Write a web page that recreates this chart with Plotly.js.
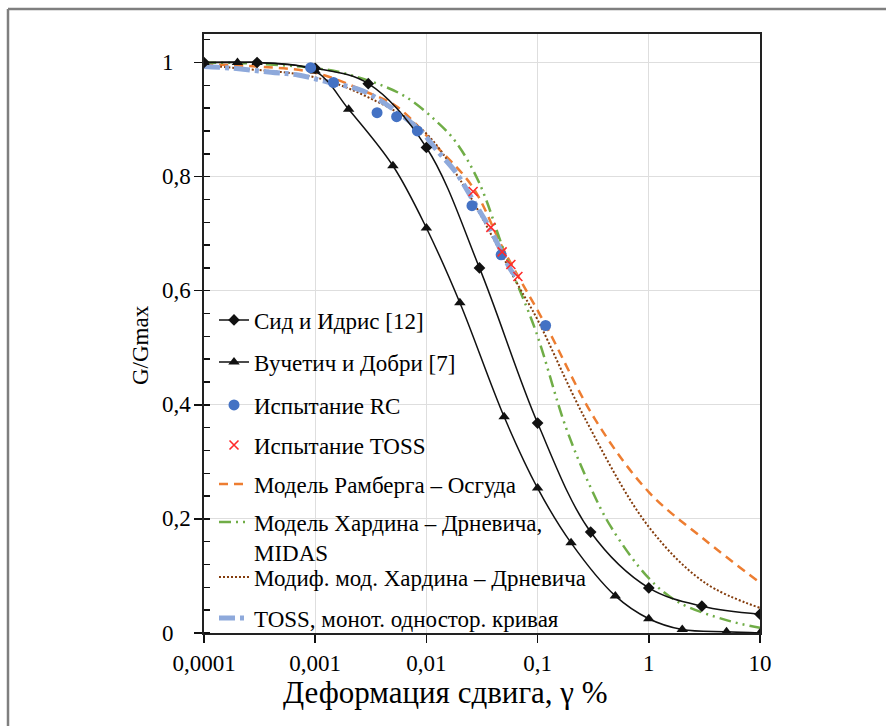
<!DOCTYPE html>
<html>
<head>
<meta charset="utf-8">
<script src="https://cdn.plot.ly/plotly-3.0.1.min.js"></script>
<style>
  html, body { margin: 0; padding: 0; background: #fff; overflow: hidden; }
  #chart { width: 886px; height: 726px; }
</style>
</head>
<body>
<div id="chart"></div>
<script>
// ---- Data ----
const seedX = [0.0001, 0.0003, 0.001, 0.003, 0.01, 0.03, 0.1, 0.3, 1, 3, 10];
const seedY = [1.0, 1.0, 0.99, 0.963, 0.851, 0.64, 0.368, 0.177, 0.079, 0.047, 0.033];

const vucX = [0.0001, 0.0002, 0.0003, 0.001, 0.002, 0.005, 0.01, 0.02, 0.05, 0.1, 0.2, 0.5, 1, 2, 5, 10];
const vucY = [1.0, 1.0, 1.0, 0.985, 0.918, 0.819, 0.71, 0.579, 0.379, 0.254, 0.158, 0.065, 0.025, 0.006, 0.002, 0.0];

const rcX = [0.00091, 0.00146, 0.0036, 0.0054, 0.0083, 0.0257, 0.047, 0.118];
const rcY = [0.991, 0.965, 0.912, 0.905, 0.88, 0.749, 0.663, 0.539];

const tossX = [0.0263, 0.038, 0.048, 0.0575, 0.0665];
const tossY = [0.774, 0.711, 0.668, 0.646, 0.625];

const roX = [0.0001, 0.0003, 0.001, 0.003, 0.0054, 0.0123, 0.026, 0.05, 0.118, 0.33, 1, 3.2, 10];
const roY = [0.997, 0.993, 0.982, 0.947, 0.923, 0.853, 0.782, 0.67, 0.54, 0.374, 0.247, 0.163, 0.088];

const hdX = [0.0001, 0.0003, 0.001, 0.00176, 0.006, 0.0123, 0.0185, 0.0297, 0.052, 0.096, 0.18, 0.3, 0.46, 1, 1.85, 4.9, 10];
const hdY = [1.0, 0.998, 0.99, 0.982, 0.944, 0.897, 0.86, 0.79, 0.66, 0.53, 0.36, 0.255, 0.185, 0.096, 0.054, 0.023, 0.009];

const mhdX = [0.0001, 0.0002, 0.001, 0.003, 0.0092, 0.02, 0.068, 0.1, 0.27, 1, 3.2, 10];
const mhdY = [0.995, 0.99, 0.974, 0.939, 0.882, 0.795, 0.607, 0.549, 0.374, 0.186, 0.088, 0.044];

const tcX = [0.0001, 0.00018, 0.0004, 0.0007, 0.00135, 0.0027, 0.0054, 0.0092, 0.0123, 0.0185, 0.026, 0.037, 0.059, 0.068];
const tcY = [0.993, 0.99, 0.983, 0.978, 0.965, 0.95, 0.914, 0.877, 0.847, 0.807, 0.76, 0.71, 0.633, 0.62];

const seriesNames = [
  "Сид и Идрис [12]",
  "Вучетич и Добри [7]",
  "Испытание RC",
  "Испытание TOSS",
  "Модель Рамберга – Осгуда",
  "Модель Хардина – Дрневича,<br>MIDAS",
  "Модиф. мод. Хардина – Дрневича",
  "TOSS, монот. одностор. кривая"
];

const xTickVals = [0.0001, 0.001, 0.01, 0.1, 1, 10];
const xTickText = ["0,0001", "0,001", "0,01", "0,1", "1", "10"];
const yTickVals = [0, 0.2, 0.4, 0.6, 0.8, 1];
const yTickText = ["0", "0,2", "0,4", "0,6", "0,8", "1"];

const xTitle = "Деформация сдвига, γ %";
const yTitle = "G/Gmax";

// ---- Plot ----
const FONT = "'Liberation Serif', 'Times New Roman', serif";
const TXT = "#000";
const W = 886, H = 726;
const L = 204, R = 126, T = 34, B = 93;
const PW = W - L - R, PH = H - T - B;
const px2x = p => (p - L) / PW;
const py2y = p => (H - B - p) / PH;

const traces = [
  { x: roX, y: roY, name: seriesNames[4], legend: "legend5",
    mode: "lines", line: { color: "#ED7D31", width: 2.5, dash: "9px,6px", shape: "spline" } },
  { x: hdX, y: hdY, name: seriesNames[5], legend: "legend6",
    mode: "lines", line: { color: "#70AD47", width: 2.5, dash: "12px,5px,2px,5px,2px,5px", shape: "spline" } },
  { x: mhdX, y: mhdY, name: seriesNames[6], legend: "legend7",
    mode: "lines", line: { color: "#843C0C", width: 2, dash: "2px,2px", shape: "spline" } },
  { x: tcX, y: tcY, name: seriesNames[7], legend: "legend8",
    mode: "lines", line: { color: "#8EA9DB", width: 5, dash: "16px,5px,4px,5px", shape: "spline" } },
  { x: seedX, y: seedY, name: seriesNames[0], legend: "legend",
    mode: "lines+markers", line: { color: "#111", width: 1.5, shape: "spline" },
    marker: { symbol: "diamond", size: 9, color: "#111" } },
  { x: vucX, y: vucY, name: seriesNames[1], legend: "legend2",
    mode: "lines+markers", line: { color: "#111", width: 1.5, shape: "spline" },
    marker: { symbol: "triangle-up", size: 10, color: "#111" } },
  { x: rcX, y: rcY, name: seriesNames[2], legend: "legend3",
    mode: "markers", marker: { symbol: "circle", size: 11, color: "#4472C4" } },
  { x: tossX, y: tossY, name: seriesNames[3], legend: "legend4",
    mode: "markers", marker: { symbol: "x-thin", size: 9, color: "#FF2B2B", line: { color: "#FF2B2B", width: 1.6 } } }
].map(t => Object.assign({ type: "scatter", showlegend: true }, t));

// legend entry centres (px) as in the reference
const legendCentersPx = [320, 362, 405, 445, 484, 537, 577, 618];
const legendKeys = ["legend", "legend2", "legend3", "legend4", "legend5", "legend6", "legend7", "legend8"];

const layout = {
  width: W, height: H,
  margin: { l: L, r: R, t: T, b: B, pad: 0 },
  paper_bgcolor: "#fff", plot_bgcolor: "#fff",
  separators: ", ",
  font: { family: FONT, color: TXT },
  showlegend: true,
  xaxis: {
    type: "log", range: [-4, 1],
    tickmode: "array", tickvals: xTickVals, ticktext: xTickText,
    ticks: "outside", ticklen: 8, tickwidth: 1.5, tickcolor: "#111",
    showgrid: true, gridcolor: "#dedede", gridwidth: 1,
    showline: true, linecolor: "#222", linewidth: 2, mirror: true,
    zeroline: false,
    tickfont: { family: FONT, size: 23, color: TXT }
  },
  // companion axes that only draw the inner half of the crossing major ticks
  xaxis2: {
    type: "log", range: [-4, 1], overlaying: "x", anchor: "y", side: "bottom",
    tickmode: "array", tickvals: xTickVals, ticks: "inside", ticklen: 5, tickwidth: 1.5, tickcolor: "#111",
    showticklabels: false, showgrid: false, showline: false, zeroline: false
  },
  yaxis: {
    range: [0, 1.05],
    tickmode: "array", tickvals: yTickVals, showticklabels: false,
    ticks: "outside", ticklen: 8, tickwidth: 1.5, tickcolor: "#111",
    minor: { dtick: 0.04, tick0: 0, ticks: "inside", ticklen: 6, tickwidth: 1.5, tickcolor: "#111", showgrid: false },
    showgrid: true, gridcolor: "#dedede", gridwidth: 1,
    showline: true, linecolor: "#222", linewidth: 2, mirror: true,
    zeroline: false
  },
  yaxis2: {
    range: [0, 1.05], overlaying: "y", anchor: "x", side: "left",
    tickmode: "array", tickvals: yTickVals, ticks: "inside", ticklen: 4, tickwidth: 1.5, tickcolor: "#111",
    showticklabels: false, showgrid: false, showline: false, zeroline: false
  },
  annotations: [],
  shapes: [
    { type: "line", xref: "paper", yref: "paper", x0: px2x(8), x1: px2x(900), y0: py2y(9), y1: py2y(9),
      line: { color: "#7f7f7f", width: 2.5 } },
    { type: "line", xref: "paper", yref: "paper", x0: px2x(8), x1: px2x(8), y0: py2y(9), y1: py2y(740),
      line: { color: "#7f7f7f", width: 2.5 } }
  ]
};

legendKeys.forEach((k, i) => {
  layout[k] = {
    x: px2x(214), y: py2y(legendCentersPx[i]), xanchor: "left", yanchor: "middle",
    bgcolor: "rgba(0,0,0,0)", borderwidth: 0, valign: "top",
    font: { family: FONT, size: 23, color: TXT }
  };
});

yTickVals.forEach((v, i) => {
  layout.annotations.push({
    xref: "paper", yref: "y", x: px2x(160), y: v, xanchor: "left", yanchor: "middle",
    text: yTickText[i], showarrow: false, font: { family: FONT, size: 23, color: TXT }
  });
});
layout.annotations.push({
  xref: "paper", yref: "paper", x: px2x(445), y: py2y(692), xanchor: "center", yanchor: "middle",
  text: xTitle, showarrow: false, font: { family: FONT, size: 31, color: TXT }
});
layout.annotations.push({
  xref: "paper", yref: "paper", x: px2x(141), y: py2y(345), xanchor: "center", yanchor: "middle",
  text: yTitle, textangle: -90, showarrow: false, font: { family: FONT, size: 23, color: TXT }
});

Plotly.newPlot("chart", traces, layout, { displayModeBar: false, staticPlot: true });
</script>
</body>
</html>
